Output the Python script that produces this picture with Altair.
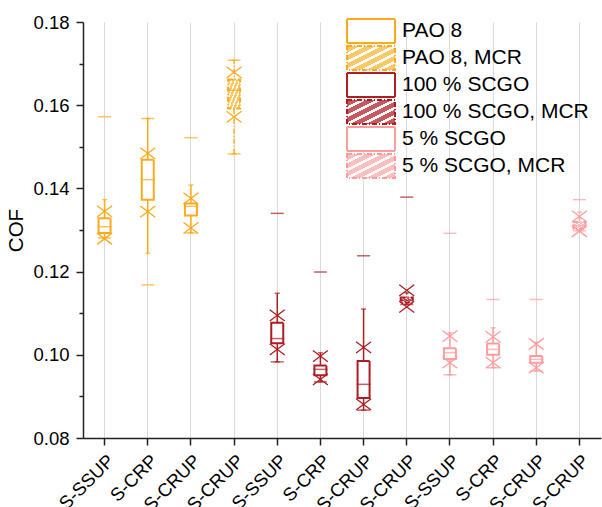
import json
import altair as alt
import pandas as pd

# ---------------- data ----------------
categories = ["S-SSUP", "S-CRP", "S-CRUP", "S-CRUP",
              "S-SSUP", "S-CRP", "S-CRUP", "S-CRUP",
              "S-SSUP", "S-CRP", "S-CRUP", "S-CRUP"]
series = ["PAO 8", "PAO 8", "PAO 8", "PAO 8, MCR",
          "100 % SCGO", "100 % SCGO", "100 % SCGO", "100 % SCGO, MCR",
          "5 % SCGO", "5 % SCGO", "5 % SCGO", "5 % SCGO, MCR"]
mins     = [0.1281, 0.1168, 0.1293, 0.1483, 0.0983, 0.0935, 0.0867, 0.1121, 0.0952, 0.0969, 0.0961, 0.1298]
whisk_lo = [0.1281, 0.1244, 0.1293, 0.1483, 0.0983, 0.0935, 0.0867, 0.1121, 0.0952, 0.0969, 0.0961, 0.1298]
x_lo     = [0.1279, 0.1344, 0.1305, 0.1572, 0.1013, 0.0941, 0.0881, 0.1115, 0.0981, 0.0981, 0.0969, 0.1297]
q1       = [0.1293, 0.1373, 0.1335, 0.1592, 0.1028, 0.0951, 0.0896, 0.1126, 0.0990, 0.1000, 0.0981, 0.1303]
median   = [0.1308, 0.1421, 0.1357, 0.1636, 0.1039, 0.0965, 0.0929, 0.1131, 0.1005, 0.1013, 0.0989, 0.1311]
q3       = [0.1328, 0.1469, 0.1364, 0.1662, 0.1077, 0.0974, 0.0985, 0.1138, 0.1016, 0.1027, 0.0997, 0.1319]
x_hi     = [0.1345, 0.1484, 0.1376, 0.1679, 0.1095, 0.0997, 0.1018, 0.1155, 0.1045, 0.1043, 0.1026, 0.1333]
whisk_hi = [0.1373, 0.1568, 0.1408, 0.1708, 0.1148, 0.1005, 0.1110, 0.1149, 0.1053, 0.1065, 0.1030, 0.1343]
maxs     = [0.1572, 0.1568, 0.1522, 0.1708, 0.1340, 0.1199, 0.1238, 0.1379, 0.1292, 0.1133, 0.1133, 0.1373]

series_names = ["PAO 8", "PAO 8, MCR", "100 % SCGO", "100 % SCGO, MCR", "5 % SCGO", "5 % SCGO, MCR"]
y_ticks = [0.08, 0.09, 0.10, 0.11, 0.12, 0.13, 0.14, 0.15, 0.16, 0.17, 0.18]

# ---------------- styles ----------------
ORANGE, RED, PINK = "#FFA91C", "#AD1E22", "#FF9D9D"
series_colors = [ORANGE, ORANGE, RED, RED, PINK, PINK]
hatch_colors = ["#FFC866", "#C8585C", "#FFBDBD"]
FONT = "Liberation Sans"


def hatch(color, n=6, w=0.10):
    stops = ["{offset: 0, color: 'white'}"]
    for i in range(n):
        c = (i + 0.5) / n
        a, b = c - w / 2, c + w / 2
        stops += [f"{{offset: {a:.3f}, color: 'white'}}", f"{{offset: {a:.3f}, color: '{color}'}}",
                  f"{{offset: {b:.3f}, color: '{color}'}}", f"{{offset: {b:.3f}, color: 'white'}}"]
    stops.append("{offset: 1, color: 'white'}")
    return {"expr": "{gradient: 'linear', x1: 0, y1: 0, x2: 1, y2: 1, stops: [" + ", ".join(stops) + "]}"}


fill_range = ["white", hatch(hatch_colors[0]), "white", hatch(hatch_colors[1]), "white", hatch(hatch_colors[2])]
dash_range = [[1, 0], [5, 2, 1, 2], [1, 0], [5, 2, 1, 2], [1, 0], [5, 2, 1, 2]]

ids = [str(i) for i in range(len(categories))]
df = pd.DataFrame({
    "id": ids, "label": categories, "series": series,
    "mins": mins, "whisk_lo": whisk_lo, "x_lo": x_lo, "q1": q1, "median": median,
    "q3": q3, "x_hi": x_hi, "whisk_hi": whisk_hi, "maxs": maxs,
})
df["mcr"] = df["series"].str.contains("MCR")
df["col"] = df["series"].map(dict(zip(series_names, series_colors)))

label_expr = json.dumps(categories) + "[toNumber(datum.value)]"

x_enc = alt.X("id:N", sort=ids,
              scale=alt.Scale(paddingInner=0, paddingOuter=0),
              axis=alt.Axis(title=None, labelExpr=label_expr, labelAngle=-45, labelAlign="right",
                            labelBaseline="top", labelPadding=6, labelFontSize=18.5, labelFont=FONT,
                            labelColor="black", tickSize=7, tickWidth=1.5, tickColor="#222",
                            domainColor="#222", domainWidth=1.5, grid=True, gridColor="#DADADA",
                            gridWidth=1, bandPosition=0.5))
y_scale = alt.Scale(domain=[0.08, 0.18], nice=False, zero=False)
y_axis = alt.Axis(values=y_ticks, title="COF", titleFontSize=20.5, titleFont=FONT, titleFontWeight="normal",
                  titleColor="black", titlePadding=6,
                  labelExpr="round(datum.value*100) % 2 == 0 ? format(datum.value, '.2f') : ''",
                  labelFontSize=18.5, labelFont=FONT, labelColor="black", labelPadding=7,
                  tickSize={"condition": {"test": "round(datum.value*100) % 2 == 0", "value": 7}, "value": 4},
                  tickWidth=1.5, tickColor="#222", domainColor="#222", domainWidth=1.5, grid=False)

base = alt.Chart(df)
col = alt.Color("col:N", scale=None)
stroke_col = alt.Stroke("col:N", scale=None)

whisk_solid = base.transform_filter("!datum.mcr").mark_rule(strokeWidth=1.5).encode(
    x=x_enc, y=alt.Y("whisk_lo:Q", scale=y_scale, axis=y_axis), y2="whisk_hi:Q", stroke=stroke_col)
whisk_dash = base.transform_filter("datum.mcr").mark_rule(strokeWidth=1.5, strokeDash=[5, 2, 1, 2]).encode(
    x=x_enc, y=alt.Y("whisk_lo:Q", scale=y_scale, axis=y_axis), y2="whisk_hi:Q", stroke=stroke_col)

caps = base.transform_fold(["whisk_lo", "whisk_hi"], as_=["k", "v"]).mark_tick(size=5, thickness=1.5).encode(
    x=x_enc, y=alt.Y("v:Q", scale=y_scale, axis=y_axis), color=col)

legend = alt.Legend(title=None, orient="none", legendX=277, legendY=-2, padding=0,
                    symbolType="M-2.4,-1.2H2.4V1.2H-2.4Z", symbolSize=400, symbolStrokeWidth=2,
                    labelFontSize=21, labelFont=FONT, labelColor="black", labelOffset=20,
                    rowPadding=-5.4, labelLimit=400, symbolFillColor="white")

boxes = base.mark_bar(size=12, strokeWidth=2).encode(
    x=x_enc, y=alt.Y("q1:Q", scale=y_scale, axis=y_axis), y2="q3:Q",
    stroke=alt.Stroke("series:N", scale=alt.Scale(domain=series_names, range=series_colors), legend=legend),
    fill=alt.Fill("series:N", scale=alt.Scale(domain=series_names, range=fill_range), legend=legend),
    strokeDash=alt.StrokeDash("series:N", scale=alt.Scale(domain=series_names, range=dash_range), legend=legend),
)

med = base.mark_tick(size=14, thickness=1.5).encode(
    x=x_enc, y=alt.Y("median:Q", scale=y_scale, axis=y_axis), color=col)

extremes = base.transform_fold(["mins", "maxs"], as_=["k", "v"]).mark_tick(size=13, thickness=1.5).encode(
    x=x_enc, y=alt.Y("v:Q", scale=y_scale, axis=y_axis), color=col)

xmarks = base.transform_fold(["x_lo", "x_hi"], as_=["k", "v"]).mark_point(
    shape="M-1,-0.75L1,0.75M-1,0.75L1,-0.75", size=225, filled=False, strokeWidth=1.3, opacity=1).encode(
    x=x_enc, y=alt.Y("v:Q", scale=y_scale, axis=y_axis), stroke=stroke_col)

chart = alt.layer(whisk_solid, whisk_dash, boxes, caps, med, extremes, xmarks).properties(
    width=518, height=416,
    autosize=alt.AutoSizeParams(type="none"),
    padding={"left": 83, "top": 22, "right": 1, "bottom": 69},
    background="white",
).configure_view(stroke=None)

chart.save("out.html", embed_options={"renderer": "svg", "actions": False})
